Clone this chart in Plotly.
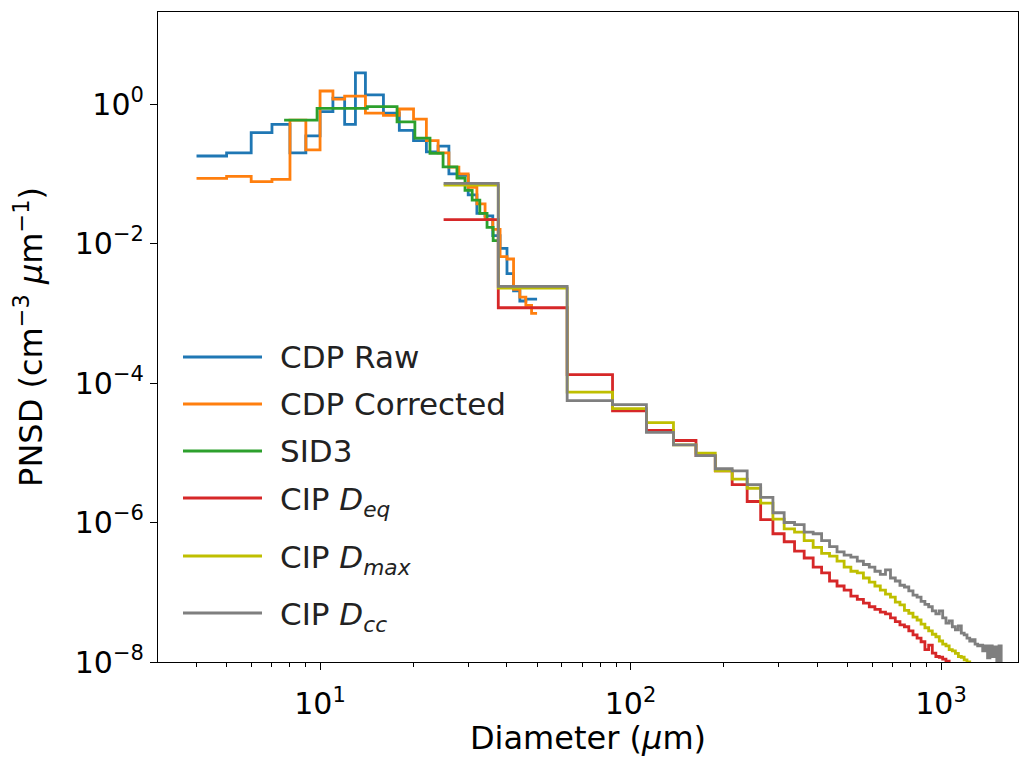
import plotly.graph_objects as go

# ---------------- data ----------------
cdp_edges = [4, 5, 6, 7, 8, 9, 10, 11, 12, 13, 14, 16, 18, 20, 22, 24, 26, 28,
             30, 32, 34, 36, 38, 40, 42, 44, 46, 48, 50]
cdp_raw = [0.18, 0.20, 0.39, 0.51, 0.20, 0.35, 0.78, 1.22, 0.51, 2.8,
           1.35, 0.74, 0.42, 0.30, 0.206, 0.25, 0.10, 0.095, 0.05, 0.027,
           0.025, 0.013, 0.0085, 0.0037, 0.0021, 0.0015, 0.0016, 0.0016]
cdp_corr = [0.086, 0.092, 0.077, 0.083, 0.59, 0.22, 1.54, 1.18, 1.30, 1.30,
            0.74, 0.69, 0.85, 0.61, 0.30, 0.20, 0.125, 0.10, 0.064, 0.037,
            0.022, 0.016, 0.0065, 0.006, 0.0022, 0.0017, 0.0013, 0.0010]

sid3_edges = [7.66, 9.78, 14.2, 17.7, 20.2, 22.6, 24.9, 27.6, 29.3, 30.9,
              32.7, 34.5, 36.1, 37.7]
sid3 = [0.59, 0.87, 0.92, 0.557, 0.325, 0.197, 0.126, 0.087, 0.058, 0.042,
        0.027, 0.017, 0.011]

cip_edges = [25, 37.5, 62.5, 87.5, 112.5, 137.5, 162.5, 187.5, 212.5, 237.5,
             262.5, 287.5, 312.5, 337.5, 362.5, 387.5, 412.5, 437.5, 462.5,
             487.5, 512.5, 537.5, 562.5, 587.5, 612.5, 637.5, 662.5, 687.5,
             712.5, 737.5, 762.5, 787.5, 812.5, 837.5, 862.5, 887.5, 912.5,
             937.5, 962.5, 987.5, 1012.5, 1037.5, 1062.5, 1087.5, 1112.5,
             1137.5, 1162.5, 1187.5, 1212.5, 1237.5, 1262.5, 1287.5, 1312.5,
             1337.5, 1362.5, 1387.5, 1412.5, 1437.5, 1462.5, 1487.5, 1512.5,
             1537.5, 1562.5, 1587.5]

cip_deq = [0.022, 1.2e-3, 1.32e-4, 4.0e-5, 2.1e-5, 1.5e-5, 9.1e-6, 5.5e-6,
           3.5e-6, 2.0e-6, 1.1e-6, 6.9e-7, 5.3e-7, 3.9e-7, 3.1e-7, 2.3e-7,
           1.9e-7, 1.45e-7, 1.23e-7, 1.07e-7, 8.8e-8, 7.9e-8, 7.0e-8, 6.2e-8,
           5.7e-8, 5.2e-8, 4.9e-8, 4.3e-8, 3.8e-8, 3.4e-8, 3.2e-8, 2.8e-8,
           2.45e-8, 2.2e-8, 1.95e-8, 1.5e-8, 1.75e-8, 1.34e-8, 1.2e-8,
           1.17e-8, 1.1e-8, 1.03e-8, 9e-9]

cip_dmax = [0.0686, 2.3e-3, 7.4e-5, 4.3e-5, 2.7e-5, 1.3e-5, 9.9e-6, 5.5e-6,
            4.2e-6, 3.1e-6, 1.9e-6, 1.12e-6, 8.1e-7, 7.3e-7, 5.5e-7, 4.4e-7,
            3.6e-7, 3.3e-7, 2.8e-7, 2.3e-7, 2.0e-7, 1.9e-7, 1.6e-7, 1.4e-7,
            1.23e-7, 1.07e-7, 9.4e-8, 8.5e-8, 7.2e-8, 6.6e-8, 5.5e-8, 5.0e-8,
            4.4e-8, 4.0e-8, 3.5e-8, 3.1e-8, 2.8e-8, 2.5e-8, 2.3e-8, 2.0e-8,
            1.8e-8, 1.7e-8, 1.5e-8, 1.44e-8, 1.33e-8, 1.2e-8, 1.17e-8,
            1.07e-8, 1.0e-8, 9e-9]

cip_dcc = [0.073, 2.43e-3, 5.6e-5, 4.9e-5, 1.96e-5, 1.3e-5, 9.1e-6, 5.9e-6,
           5.5e-6, 3.5e-6, 2.3e-6, 1.38e-6, 1.0e-6, 9.3e-7, 7.3e-7, 6.9e-7,
           5.5e-7, 4.5e-7, 3.8e-7, 3.4e-7, 3.2e-7, 2.8e-7, 2.5e-7, 2.3e-7,
           2.0e-7, 1.8e-7, 2.1e-7, 1.6e-7, 1.45e-7, 1.26e-7, 1.19e-7, 1.05e-7,
           9.1e-8, 8.5e-8, 7.4e-8, 6.7e-8, 6.2e-8, 5.4e-8, 4.9e-8, 5.4e-8,
           4.3e-8, 3.6e-8, 3.9e-8, 3.2e-8, 2.9e-8, 3.3e-8, 2.6e-8, 2.45e-8,
           2.2e-8, 2.0e-8, 2.1e-8, 1.8e-8, 1.7e-8, 1.75e-8, 1.44e-8, 1.7e-8,
           1.15e-8, 1.7e-8, 1.2e-8, 1.65e-8, 1.03e-8, 1.7e-8, 9e-9]

series = [
    ("CDP Raw", cdp_edges, cdp_raw, "#1f77b4"),
    ("CDP Corrected", cdp_edges, cdp_corr, "#ff7f0e"),
    ("SID3", sid3_edges, sid3, "#2ca02c"),
    ("CIP <i>D</i><sub><i>eq</i></sub>", cip_edges, cip_deq, "#d62728"),
    ("CIP <i>D</i><sub><i>max</i></sub>", cip_edges, cip_dmax, "#bfbf00"),
    ("CIP <i>D</i><sub><i>cc</i></sub>", cip_edges, cip_dcc, "#7f7f7f"),
]

x_ticks = [10, 100, 1000]
x_ticktext = ["10<sup>1</sup>", "10<sup>2</sup>", "10<sup>3</sup>"]
x_minor = [4, 5, 6, 7, 8, 9, 20, 30, 40, 50, 60, 70, 80, 90,
           200, 300, 400, 500, 600, 700, 800, 900]
y_ticks = [1e-8, 1e-6, 1e-4, 1e-2, 1]
y_ticktext = ["10<sup>−8</sup>", "10<sup>−6</sup>", "10<sup>−4</sup>",
              "10<sup>−2</sup>", "10<sup>0</sup>"]

# ---------------- figure ----------------
W, H = 1020, 757
L, R, T, B = 158, 2, 12, 95
pw, ph = W - L - R, H - T - B

fig = go.Figure()
for name, edges, vals, col in series:
    n = len(vals)
    xs = edges[:n + 1]
    ys = list(vals) + [vals[-1]]
    fig.add_trace(go.Scatter(x=xs, y=ys, mode="lines", line_shape="hv",
                             line=dict(color=col, width=2.8), name=name,
                             showlegend=False))

# custom legend (matplotlib-like, long line samples); page-pixel positions
leg_y = [357, 404, 451, 498, 556, 613]
def px2x(px):
    return (px - L) / pw
def py2y(py):
    return (T + ph - py) / ph
for (name, _, _, col), yy in zip(series, leg_y):
    fig.add_shape(type="line", xref="paper", yref="paper",
                  x0=px2x(183), x1=px2x(262), y0=py2y(yy), y1=py2y(yy),
                  line=dict(color=col, width=2.8))
    ty = yy + (3 if "<sub>" in name else 0)
    fig.add_annotation(xref="paper", yref="paper", x=px2x(278), y=py2y(ty),
                       text=name, showarrow=False, xanchor="left",
                       yanchor="middle", font=dict(size=31, color="#222"))

axis_common = dict(showline=True, linecolor="black", linewidth=1.2, mirror=True,
                   ticks="outside", tickcolor="black", showgrid=False,
                   zeroline=False, tickfont=dict(size=30, color="black"))

fig.update_layout(
    width=W, height=H,
    margin=dict(l=L, r=R, t=T, b=B, autoexpand=False),
    paper_bgcolor="white", plot_bgcolor="white",
    font=dict(family="DejaVu Sans", size=30, color="black"),
    xaxis=dict(type="log", range=[0.478, 3.248], tickvals=x_ticks,
               ticktext=x_ticktext, ticklen=7, tickwidth=1.2,
               ticklabelstandoff=8,
               minor=dict(tickvals=x_minor, ticks="outside", ticklen=4,
                          tickcolor="black", tickwidth=1),
               title=dict(text="Diameter (<i>μ</i>m)", font=dict(size=32),
                          standoff=4),
               **axis_common),
    yaxis=dict(type="log", range=[-8, 1.32], tickvals=y_ticks,
               ticktext=y_ticktext, ticklen=7, tickwidth=1.2,
               title=dict(text="PNSD (cm<sup>−3</sup> <i>μ</i>m<sup>−1</sup>)",
                          font=dict(size=32), standoff=22),
               **axis_common),
)

# remove the default 8px page margin so the figure fills the window exactly
fig.write_html("out.html",
               config={"displayModeBar": False},
               post_script="document.body.style.margin='0';"
                           "document.body.style.overflow='hidden';")
